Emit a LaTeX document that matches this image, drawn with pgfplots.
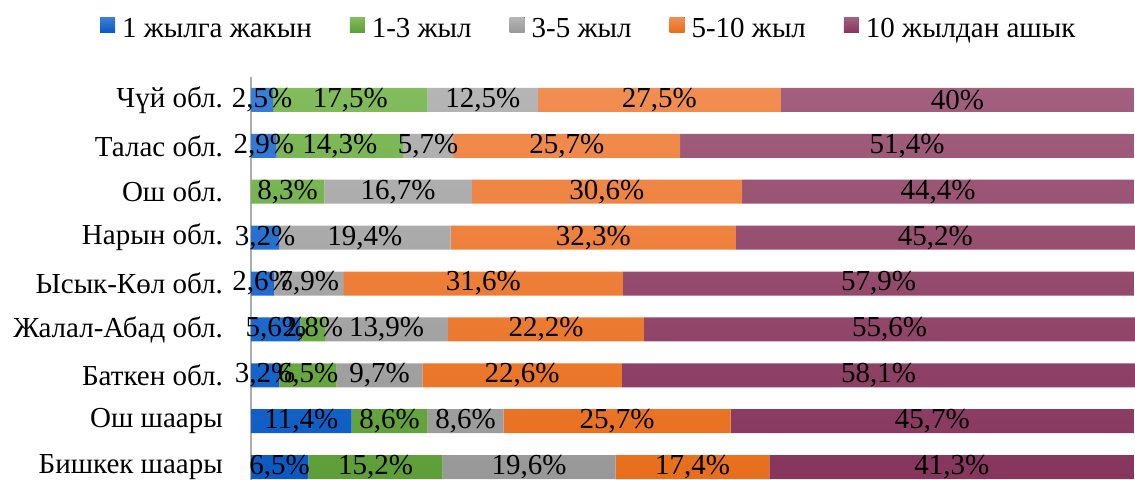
\documentclass[border=0pt]{standalone}
\usepackage{fontspec}
\setmainfont{Liberation Serif}
\usepackage{pgfplots}
\usepackage{pgfplotstable}
\pgfplotsset{compat=1.18}
\definecolor{c1t}{HTML}{3A7FD8}
\definecolor{c1b}{HTML}{0A5AC2}
\definecolor{c2t}{HTML}{82BC5C}
\definecolor{c2b}{HTML}{5E9E38}
\definecolor{c3t}{HTML}{B5B5B5}
\definecolor{c3b}{HTML}{989898}
\definecolor{c4t}{HTML}{F18E52}
\definecolor{c4b}{HTML}{E86E1C}
\definecolor{c5t}{HTML}{A2607E}
\definecolor{c5b}{HTML}{86355C}
\pgfplotstableread{
pos a    b    c    d    e
8   2.5  17.5 12.5 27.5 40
7   2.9  14.3 5.7  25.7 51.4
6   0    8.3  16.7 30.6 44.4
5   3.2  0    19.4 32.3 45.2
4   2.6  0    7.9  31.6 57.9
3   5.6  2.8  13.9 22.2 55.6
2   3.2  6.5  9.7  22.6 58.1
1   11.4 8.6  8.6  25.7 45.7
0   6.5  15.2 19.6 17.4 41.3
}\datatable
\begin{document}
\begin{tikzpicture}[font=\fontsize{29bp}{34bp}\selectfont]
\begin{axis}[
  at={(251bp,0bp)}, anchor=south west,
  scale only axis, width=884bp, height=403bp,
  xbar stacked, bar width=24bp,
  xmin=0, xmax=100.1, ymin=-0.28, ymax=8.5,
  axis x line=none,
  axis y line=left,
  y axis line style={-, draw=black!32, line width=1.6bp},
  ytick={0,...,8},
  yticklabels={Бишкек шаары, Ош шаары, Баткен обл., Жалал-Абад обл., Ысык-Көл обл., Нарын обл., Ош обл., Талас обл., Чүй обл.},
  major tick length=0pt,
  ytick style={draw=none},
  yticklabel style={anchor=east, inner sep=0pt, xshift=-28bp},
  point meta=explicit,
  nodes near coords={\pgfmathfloatifflags{\pgfplotspointmeta}{0}{}{\pgfmathprintnumber[use comma,fixed,precision=1,assume math mode=true]{\pgfplotspointmeta}\%}},
  every node near coord/.append style={anchor=center, inner sep=0pt, text=black},
  legend columns=5,
  legend image code/.code={\fill[#1] (0bp,-4bp) rectangle (15bp,11bp);},
  legend cell align=left,
  legend style={at={(axis description cs:-0.1708,1.1222)}, anchor=west, draw=none, fill=none, inner sep=0pt, outer sep=0pt,
    nodes={inner sep=0pt, text height=19bp, text depth=0pt},
    /tikz/every odd column/.append style={column sep=7bp},
    /tikz/every even column/.append style={column sep=38bp}},
]
\addplot[draw=none, top color=c1t, bottom color=c1b] table[x=a, y=pos, meta=a] {\datatable};
\addplot[draw=none, top color=c2t, bottom color=c2b] table[x=b, y=pos, meta=b] {\datatable};
\addplot[draw=none, top color=c3t, bottom color=c3b] table[x=c, y=pos, meta=c] {\datatable};
\addplot[draw=none, top color=c4t, bottom color=c4b] table[x=d, y=pos, meta=d] {\datatable};
\addplot[draw=none, top color=c5t, bottom color=c5b] table[x=e, y=pos, meta=e] {\datatable};
\legend{1 жылга жакын, 1-3 жыл, 3-5 жыл, 5-10 жыл, 10 жылдан ашык}
\end{axis}
\pgfresetboundingbox
\path[use as bounding box] (0,0) rectangle (1135bp,480bp);
\end{tikzpicture}
\end{document}
